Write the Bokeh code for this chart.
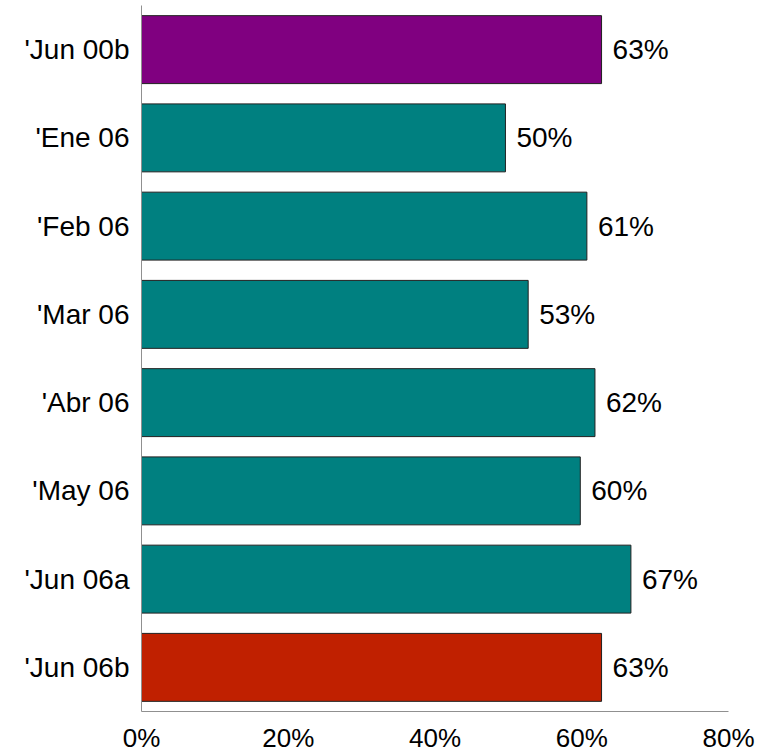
from bokeh.plotting import figure
from bokeh.models import ColumnDataSource, FactorRange, Range1d, FixedTicker
from bokeh.core.properties import value
from bokeh.embed import file_html
from bokeh.resources import INLINE

categories = ["'Jun 00b", "'Ene 06", "'Feb 06", "'Mar 06", "'Abr 06", "'May 06", "'Jun 06a", "'Jun 06b"]
values = [62.7, 49.6, 60.7, 52.7, 61.8, 59.8, 66.7, 62.7]
labels = ["63%", "50%", "61%", "53%", "62%", "60%", "67%", "63%"]
colors = ["#800080", "#008080", "#008080", "#008080", "#008080", "#008080", "#008080", "#C02000"]
x_ticks = [0, 20, 40, 60, 80]

FONT = "Liberation Sans"
FSIZE = "28px"

src = ColumnDataSource(dict(cat=categories, val=values, lab=labels, col=colors))

W, H = 760, 755
p = figure(
    width=W, height=H,
    y_range=FactorRange(*reversed(categories), range_padding=0),
    x_range=Range1d(0, 80),
    output_backend="svg", toolbar_location=None,
    min_border_left=141, min_border_right=W - 728, min_border_top=5, min_border_bottom=H - 714,
)
p.outline_line_color = None
p.xgrid.grid_line_color = None
p.ygrid.grid_line_color = None
p.background_fill_color = "white"
p.border_fill_color = "white"

p.hbar(y="cat", right="val", left=0, height=0.77, fill_color="col",
       line_color="#202020", line_width=1, source=src)

p.text(x="val", y="cat", text="lab", source=src, x_offset=11,
       text_align="left", text_baseline="middle",
       text_font=value(FONT), text_font_size=FSIZE, text_color="black")

p.xaxis.ticker = FixedTicker(ticks=x_ticks)
p.xaxis.major_label_overrides = {t: f"{t}%" for t in x_ticks}
for ax in (p.xaxis[0], p.yaxis[0]):
    ax.axis_line_color = "#909090"
    ax.axis_line_width = 1
    ax.major_tick_line_color = None
    ax.minor_tick_line_color = None
    ax.major_tick_out = 0
    ax.major_tick_in = 0
    ax.major_label_text_font = FONT
    ax.major_label_text_font_size = FSIZE
    ax.major_label_text_color = "black"
p.xaxis.major_label_text_font_size = "26px"
p.xaxis.major_label_standoff = 11
p.yaxis.major_label_standoff = 12

open("out.html", "w").write(file_html(p, INLINE))
